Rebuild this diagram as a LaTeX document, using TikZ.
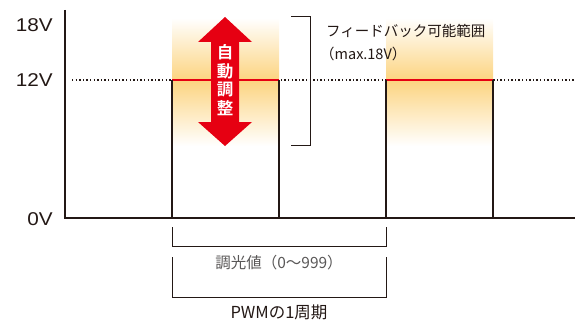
\documentclass[tikz,border=0pt]{standalone}
\usepackage{fontspec}
\setmainfont{Noto Sans CJK JP}
\newfontfamily\jpb{Noto Sans CJK JP Bold}
\newfontfamily\labfont[FakeStretch=1.12]{Liberation Sans}
\usetikzlibrary{calc}
\definecolor{ink}{HTML}{231815}
\definecolor{grayink}{HTML}{595757}
\definecolor{redc}{HTML}{E60012}
\definecolor{glow}{HTML}{FCD480}
\tikzset{
  axisline/.style={ink, line width=2pt},
  pulse/.style={ink, line width=2pt},
  dotline/.style={ink, line width=1.4pt, dash pattern=on 1.4pt off 2.2pt},
  bracketline/.style={ink, line width=1pt},
  vlabel/.style={font=\labfont\fontsize{18.5}{18}\selectfont, text=ink, anchor=east, inner sep=0pt},
  jptext/.style={font=\fontsize{14.5}{19}\selectfont, text=ink, anchor=west, inner sep=0pt, align=left},
}
\begin{document}
\begin{tikzpicture}[x=1pt,y=-1pt]
\useasboundingbox (0,0) rectangle (575,321);
% glows
\foreach \a/\b in {172/279, 386/493}{
  \shade[top color=white, bottom color=glow] (\a,18) rectangle (\b,80);
  \shade[top color=glow, bottom color=white] (\a,80) rectangle (\b,146);
}
% dotted 12V line
\draw[dotline] (72,80) -- (575,80);
% red lines
\draw[redc, line width=2.5pt] (172,80) -- (279,80);
\draw[redc, line width=2.5pt] (386,80) -- (493,80);
% axis and pulses
\draw[axisline] (65,10) -- (65,218) -- (575,218);
\draw[pulse] (172,218) -- (172,80);
\draw[pulse] (279,80) -- (279,218);
\draw[pulse] (386,218) -- (386,80);
\draw[pulse] (493,80) -- (493,218);
% labels
\node[vlabel] (l18) at (53,25) {18V};
\node[vlabel] (l12) at (53,80) {12V};
\node[vlabel] (l0) at (53,219) {0V};
% red arrow
\fill[redc] (225,17) -- (252,42) -- (239,42) -- (239,122) -- (252,122) -- (225,146)
  -- (198,122) -- (211,122) -- (211,42) -- (198,42) -- cycle;
\node[text=white, font=\jpb\fontsize{16.5}{18.8}\selectfont, align=center, inner sep=0pt] (adj) at (225,80) {自\\動\\調\\整};
% right bracket
\draw[bracketline] (291,17) -- (310,17) -- (310,145) -- (291,145);
\node[jptext] (fb) at (326,31) {フィードバック可能範囲};
\node[jptext] (mx) at (320,54) {（max.18V）};
% bottom brackets
\draw[bracketline] (172,227) -- (172,246) -- (386,246) -- (386,227);
\draw[bracketline] (172,257) -- (172,297) -- (386,297) -- (386,257);
\node[font=\fontsize{15.5}{16}\selectfont, text=grayink, inner sep=0pt] (dim) at (279,263) {調光値（0～999）};
\node[font=\fontsize{16.5}{16}\selectfont, text=ink, inner sep=0pt] (pwm) at (279,312) {PWMの1周期};
\end{tikzpicture}
\end{document}
